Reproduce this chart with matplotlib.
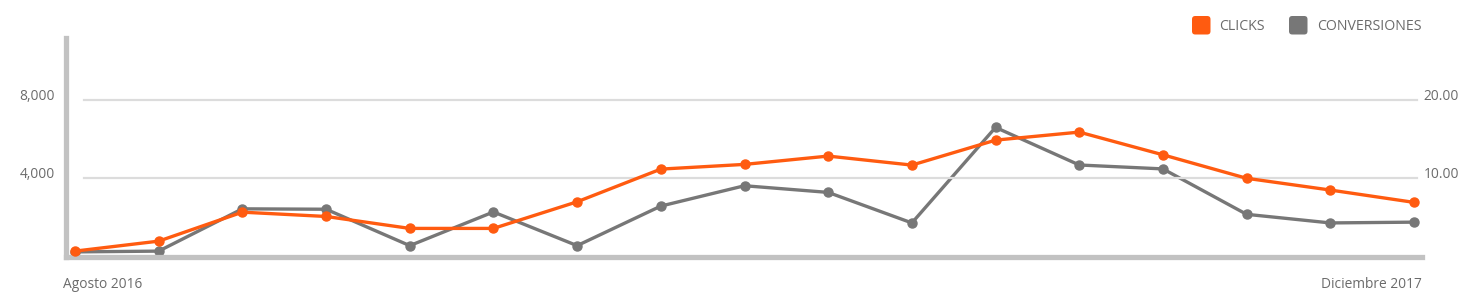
import matplotlib
matplotlib.use("Agg")
import matplotlib.pyplot as plt
from matplotlib.patches import FancyBboxPatch

plt.rcParams['font.family'] = ['Open Sans', 'DejaVu Sans']

months = ["Ago 2016", "Sep 2016", "Oct 2016", "Nov 2016", "Dic 2016", "Ene 2017",
          "Feb 2017", "Mar 2017", "Abr 2017", "May 2017", "Jun 2017", "Jul 2017",
          "Ago 2017", "Sep 2017", "Oct 2017", "Nov 2017", "Dic 2017"]
clicks = [280, 790, 2270, 2050, 1440, 1440, 2800, 4470, 4710, 5135, 4675,
          5950, 6360, 5200, 4000, 3400, 2770]
conversiones = [0.6, 0.7, 6.1, 6.05, 1.4, 5.7, 1.4, 6.45, 9.05, 8.2, 4.3,
                16.5, 11.7, 11.2, 5.4, 4.3, 4.4]
left_ticks = [4000, 8000]
left_labels = ["4,000", "8,000"]
right_ticks = [10, 20]
right_labels = ["10.00", "20.00"]
first_label = "Agosto 2016"
last_label = "Diciembre 2017"
series_names = ["CLICKS", "CONVERSIONES"]

ORANGE = "#ff5b10"
GRAY = "#777777"
AXIS = "#c2c2c2"
GRID = "#dcdcdc"
TEXT = "#6b6b6b"

W, H = 1480, 300
fig = plt.figure(figsize=(W / 100, H / 100), dpi=100)
x0, x1 = 66, 1422
y0, y1 = 256.6, 38
ax = fig.add_axes([x0 / W, 1 - y0 / H, (x1 - x0) / W, (y0 - y1) / H])
ax2 = ax.twinx()

n = len(clicks)
xs = list(range(n))
step = (1414 - 75) / (n - 1)
ax.set_xlim(-(75 - x0) / step, (n - 1) + (x1 - 1414) / step)
ymax = (y0 - y1) / 78.3 * 4000
ax.set_ylim(0, ymax)
ax2.set_ylim(0, ymax / 400)

# gridlines
for t in left_ticks:
    ax.axhline(t, xmin=(84 - x0) / (x1 - x0), xmax=(1417 - x0) / (x1 - x0),
               color=GRID, lw=1.6, zorder=0)

ax2.plot(xs, conversiones, color=GRAY, lw=2.4, marker='o', ms=6.5,
         solid_joinstyle='round', zorder=3)
ax.plot(xs, clicks, color=ORANGE, lw=2.4, marker='o', ms=6.5,
        solid_joinstyle='round', zorder=3)

ax.set_zorder(ax2.get_zorder() + 1)
ax.patch.set_visible(False)

for a in (ax, ax2):
    for s in a.spines.values():
        s.set_visible(False)
ax.spines['left'].set_visible(True)
ax.spines['bottom'].set_visible(True)
for s in ('left', 'bottom'):
    ax.spines[s].set_color(AXIS)
    ax.spines[s].set_linewidth(3.8)
    ax.spines[s].set_capstyle('projecting')

ax.set_xticks([])
ax.set_yticks(left_ticks)
ax.set_yticklabels(left_labels)
ax.tick_params(axis='y', length=0, pad=8, labelsize=9.9, labelcolor=TEXT)
ax2.set_yticks(right_ticks)
ax2.set_yticklabels(right_labels)
ax2.tick_params(axis='y', length=0, pad=1, labelsize=9.9, labelcolor=TEXT)
for lab in ax.get_yticklabels() + ax2.get_yticklabels():
    lab.set_verticalalignment('baseline')

fig.text(63 / W, 1 - 288 / H, first_label, ha='left', va='baseline',
         fontsize=9.9, color=TEXT)
fig.text(1422 / W, 1 - 288 / H, last_label, ha='right', va='baseline',
         fontsize=9.9, color=TEXT)

# legend
for (lx, tx, name, col) in [(1192, 1219, series_names[0], ORANGE),
                            (1289, 1317, series_names[1], GRAY)]:
    box = FancyBboxPatch((lx / W, 1 - 34.5 / H), 18.5 / W, 18.5 / H,
                         boxstyle="round,pad=0,rounding_size=0.0022",
                         transform=fig.transFigure, facecolor=col,
                         edgecolor='none', mutation_aspect=W / H)
    fig.patches.append(box)
    fig.text(tx / W, 1 - 30.2 / H, name, ha='left', va='baseline',
             fontsize=10.2, color=TEXT)

fig.savefig("out.png", dpi=100)
